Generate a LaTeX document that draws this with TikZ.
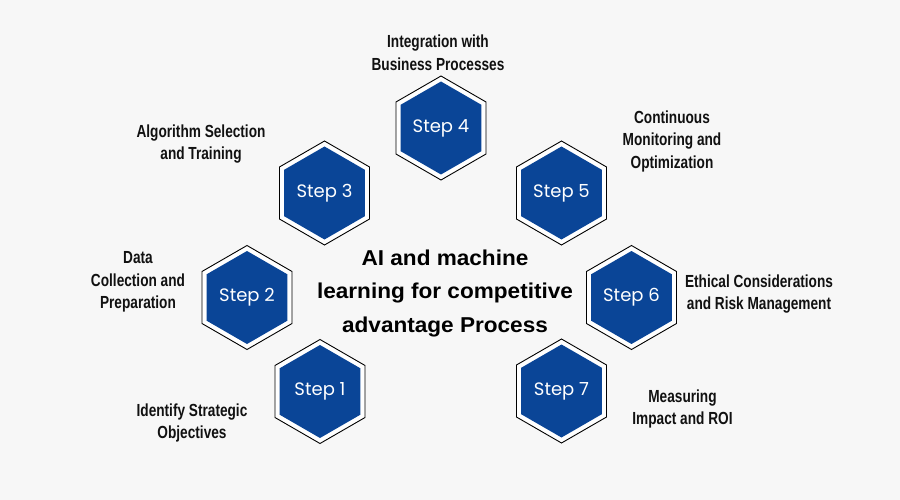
\documentclass[tikz,border=0pt]{standalone}
\usepackage{fontspec}
\definecolor{StepBlue}{HTML}{0A4597}
\definecolor{BgGray}{HTML}{F7F7F7}
\definecolor{InkDark}{HTML}{111111}
\usetikzlibrary{shapes.geometric}
\newfontfamily\labelfont[FakeStretch=0.78]{Liberation Sans}
\newfontfamily\titlefont[FakeStretch=1.05]{Liberation Sans}
\newfontfamily\stepfont{Poppins}

\begin{document}
\begin{tikzpicture}[x=1pt,y=-1pt,
  hexout/.style={regular polygon,regular polygon sides=6,shape border rotate=30,
    minimum size=104pt,inner sep=0pt,draw=black,line width=0.9pt,fill=white},
  hexin/.style={regular polygon,regular polygon sides=6,shape border rotate=30,
    minimum size=93pt,inner sep=0pt,fill=StepBlue,text=white,
    font=\stepfont\fontsize{18}{20}\selectfont},
  steplabel/.style={align=center,text=InkDark,
    font=\labelfont\bfseries\fontsize{17.5}{22.5}\selectfont}]
  \fill[BgGray] (0,0) rectangle (900,500);
  % hexagons
  \foreach \n/\x/\y in {1/320/391.5,2/247/297.5,3/324.5/193,4/441/128,
                        5/561.5/193,6/631.5/297.5,7/561.5/391}{
    \node[hexout] (h\n) at (\x,\y) {};
    \node[hexin] (s\n) at (\x,\y) {Step \n};
  }
  % labels
  \node[steplabel] (l1) at (192,423) {Identify Strategic\\Objectives};
  \node[steplabel] (l2) at (138,282) {Data\\Collection and\\Preparation};
  \node[steplabel] (l3) at (201,144) {Algorithm Selection\\and Training};
  \node[steplabel] (l4) at (438,52.5) {Integration with\\Business Processes};
  \node[steplabel] (l5) at (672,141) {Continuous\\Monitoring and\\Optimization};
  \node[steplabel] (l6) at (759,294) {Ethical Considerations\\and Risk Management};
  \node[steplabel] (l7) at (682.5,409) {Measuring\\Impact and ROI};
  \node[align=center,font=\titlefont\bfseries\fontsize{21.5}{33.5}\selectfont]
    (title) at (445,293) {AI and machine\\learning for competitive\\advantage Process};
\end{tikzpicture}
\end{document}
